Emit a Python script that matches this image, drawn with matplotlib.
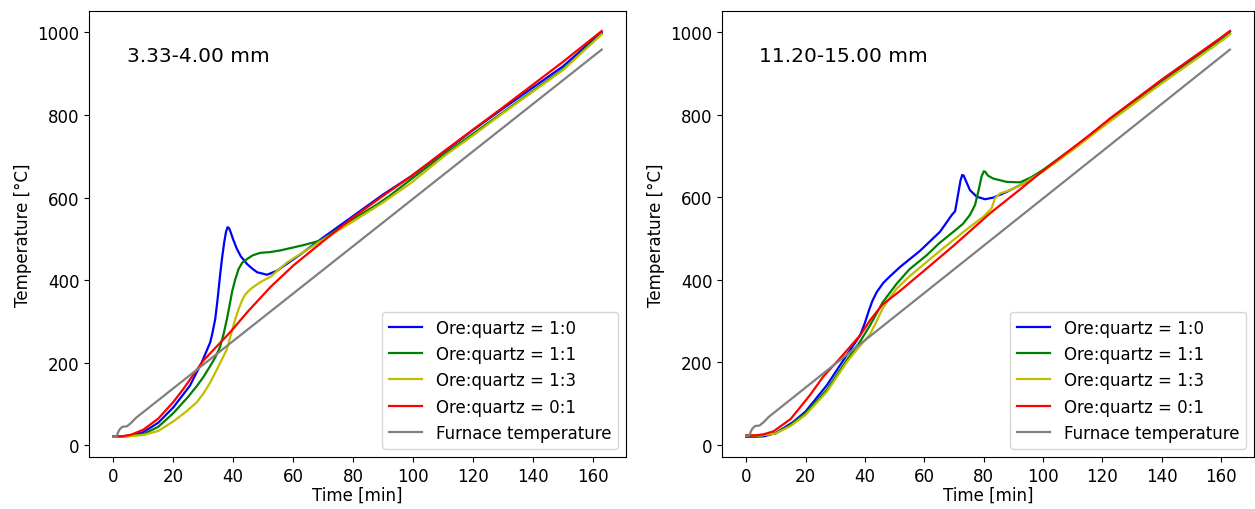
import matplotlib
matplotlib.use('Agg')
import matplotlib.pyplot as plt

plt.rcParams.update({'font.family': 'DejaVu Sans', 'font.size': 12})

LABELS = ['Ore:quartz = 1:0', 'Ore:quartz = 1:1', 'Ore:quartz = 1:3',
          'Ore:quartz = 0:1', 'Furnace temperature']
COLORS = ['b', 'g', 'y', 'r', 'gray']

# ---------- panel 1: 3.33-4.00 mm ----------
l_blue_t = [0, 3, 6, 10, 15, 20, 25.5, 29.5, 32.3, 33, 34, 34.8, 35.6, 36.3, 37,
            37.6, 38.1, 38.6, 39.2, 40, 41.2, 42.5, 44.6, 46.5, 48, 51.3, 54.7,
            58, 62, 70, 80, 90, 99.5, 110, 120, 130, 140, 150, 163]
l_blue_T = [22, 22, 24, 32, 55, 92, 144, 201, 249, 270, 306, 355, 411, 455, 492,
            517, 528, 526, 515, 498, 476, 458, 439, 427, 419, 413, 423,
            440, 460, 503, 555, 607, 652, 708, 763, 815, 866, 917, 1000]

l_green_t = [0, 5, 10, 15, 20, 25, 28, 30, 32.3, 34, 35.6, 36.8, 37.9, 38.8, 39.6,
             40.6, 41.8, 43, 44.6, 46.5, 49, 52.4, 55.8, 63.6, 69.2, 80, 88, 92,
             99.5, 110, 120, 130, 140, 150, 163]
l_green_T = [22, 22, 27, 45, 78, 118, 145, 165, 192, 213, 238, 270, 306, 340, 371,
             400, 427, 442, 451, 460, 466, 468, 472, 485, 496, 548, 583, 603,
             645, 702, 754, 806, 858, 910, 997]

l_yellow_t = [0, 5, 10, 15, 20, 24, 27.8, 30, 32.3, 35, 37.9, 39.5, 40.7, 41.8,
              42.9, 44, 45.7, 49, 52.4, 58, 65, 70, 80, 90, 99.5, 110, 120, 130,
              140, 150, 163]
l_yellow_T = [22, 22, 25, 35, 58, 80, 104, 125, 152, 190, 233, 275, 306, 330,
              350, 365, 378, 395, 408, 443, 475, 498, 542, 588, 636, 698, 750, 804,
              856, 908, 995]

l_red_t = [0, 3, 6, 10, 15, 20, 23.3, 30, 39, 45, 52.4, 60, 70, 80, 90,
           99.5, 110, 120, 130, 140, 150, 163]
l_red_T = [22, 22, 26, 38, 65, 105, 136, 205, 274, 325, 383, 435, 494, 552, 604,
           652, 710, 764, 818, 873, 928, 1003]

l_furn_t = [0, 1, 2, 3, 4.5, 6, 7.6, 163]
l_furn_T = [21, 22, 38, 45, 46, 55, 67, 958]

# ---------- panel 2: 11.20-15.00 mm ----------
r_blue_t = [0, 3, 6, 10, 15.9, 20, 27.2, 33.9, 38.4, 40, 41.2, 42.5, 44, 46.2, 48,
            51.9, 58.6, 65.3, 69.3, 70.4, 71.6, 72.2, 72.8, 73.3, 74, 75.4, 77.7,
            80.5, 83.3, 87.8, 93.4, 100, 110, 122.6, 140, 159.6, 163]
r_blue_T = [19, 19, 20, 28, 55, 80, 144, 217, 265, 295, 322, 348, 370, 392, 405,
            431, 470, 516, 557, 566, 615, 640, 654, 652, 640, 617, 601,
            595, 599, 613, 633, 664, 718, 789, 883, 983, 1002]

r_green_t = [0, 5, 10, 15, 20, 27.2, 33.9, 38.4, 41.8, 46, 50.7, 55, 60.8, 65, 69.8,
             73, 75.4, 77.1, 78.2, 79.3, 80.1, 80.6, 81.5, 83.3, 87.8, 92.3, 96, 100,
             110, 122.6, 140, 159.6, 163]
r_green_T = [22, 22, 27, 48, 76, 133, 205, 250, 290, 345, 390, 425, 459, 488, 516,
             535, 557, 581, 613, 650, 663, 661, 652, 645, 637, 636, 648, 666,
             718, 786, 878, 978, 997]

r_yellow_t = [0, 5, 10, 15, 20, 27.2, 33.9, 38.4, 41.8, 44, 46, 48, 50.7, 55, 60, 65,
              70, 75, 80, 82.7, 83.8, 85.5, 88.9, 93.4, 100, 110, 122.6, 140,
              159.6, 163]
r_yellow_T = [22, 22, 27, 45, 72, 128, 200, 240, 268, 300, 330, 352, 378, 408, 438,
              468, 497, 526, 553, 573, 597, 609, 617, 633, 662, 714, 784, 876,
              976, 995]

r_red_t = [0, 3, 6, 9.2, 15, 21.5, 26, 31.6, 38.4, 41.8, 46, 51.9, 60, 70, 82.2,
           92.3, 100, 115.8, 122.6, 140, 159.6, 163]
r_red_T = [22, 22, 25, 32, 62, 120, 165, 209, 265, 302, 340, 373, 422, 483, 561,
           619, 664, 751, 791, 885, 985, 1003]

r_furn_t = [0, 1, 2, 3, 4.5, 6, 7.6, 163]
r_furn_T = [21, 22, 38, 45, 46, 55, 67, 958]

panels = [
    ('3.33-4.00 mm', [(l_blue_t, l_blue_T), (l_green_t, l_green_T),
                      (l_yellow_t, l_yellow_T), (l_red_t, l_red_T),
                      (l_furn_t, l_furn_T)]),
    ('11.20-15.00 mm', [(r_blue_t, r_blue_T), (r_green_t, r_green_T),
                        (r_yellow_t, r_yellow_T), (r_red_t, r_red_T),
                        (r_furn_t, r_furn_T)]),
]

fig = plt.figure(figsize=(12.55, 5.10), dpi=100)
rects = [[0.0709, 0.102, 0.428, 0.875], [0.5753, 0.102, 0.424, 0.875]]

for rect, (title, series) in zip(rects, panels):
    ax = fig.add_axes(rect)
    for (t, T), lab, col in zip(series, LABELS, COLORS):
        ax.plot(t, T, color=col, lw=1.6, label=lab)
    ax.set_xticks(range(0, 161, 20))
    ax.set_yticks(range(0, 1001, 200))
    ax.set_xlabel('Time [min]', labelpad=1)
    ax.set_ylabel('Temperature [°C]')
    ax.text(0.07, 0.9, title, transform=ax.transAxes, fontsize=14.5,
            va='center', ha='left')
    ax.legend(loc='lower right', fontsize=12)

fig.savefig('out.png', dpi=100)
